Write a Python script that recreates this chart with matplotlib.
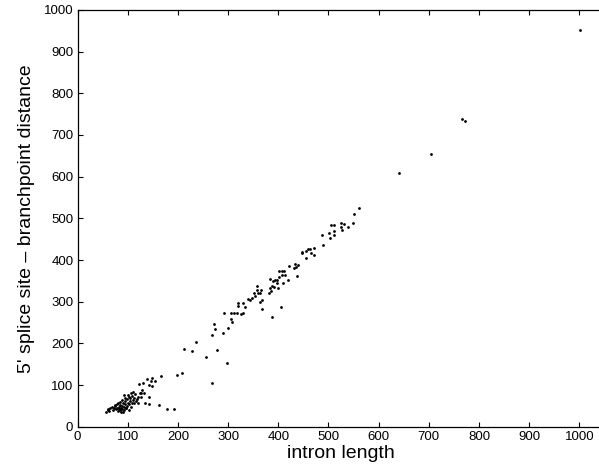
import matplotlib
matplotlib.use("Agg")
import matplotlib.pyplot as plt

plt.rcParams['font.family'] = ['Liberation Sans', 'DejaVu Sans']

# intron length vs 5' splice site - branchpoint distance
intron_length = [
    57, 60, 61, 63, 65, 68, 70, 72, 74, 75, 76, 78, 79, 80, 81, 82, 83, 84, 85, 85,
    86, 87, 88, 88, 89, 90, 91, 92, 92, 93, 94, 94, 95, 96, 97, 98, 99, 100, 101, 102,
    103, 103, 104, 105, 106, 107, 108, 109, 110, 111, 112, 113, 115, 116, 118, 120, 121, 122, 124, 126,
    127, 128, 131, 132, 134, 138, 142, 142, 143, 146, 148, 149, 154, 162, 166, 178, 192, 199, 209,
    212, 229, 237, 255, 267, 278, 297, 268, 272, 274, 290, 300, 291, 306, 308, 306, 312, 318, 325, 330,
    320, 320, 330, 334, 339, 344, 348, 351, 354, 357, 358, 360, 363, 365, 367, 363, 367, 387, 384, 383,
    387, 390, 393, 391, 385, 382, 397, 399, 397, 401, 402, 407, 408, 409, 412, 413, 405, 420, 422, 431,
    434, 437, 440, 435, 447, 447, 455, 460, 463, 466, 471, 472, 456, 488, 490, 501, 504, 505, 511, 511,
    511, 525, 525, 527, 531, 539, 549, 551, 561, 640, 704, 766, 772, 1002,
]
bp_distance = [
    35, 40, 42, 38, 45, 48, 40, 44, 50, 52, 42, 46, 55, 38, 56, 48, 42, 60, 40, 52,
    45, 36, 64, 50, 42, 58, 36, 76, 47, 40, 70, 55, 62, 44, 44, 50, 66, 58, 76, 40,
    72, 54, 68, 62, 48, 80, 58, 74, 64, 84, 58, 70, 78, 62, 66, 72, 56, 102, 80, 72,
    80, 88, 106, 82, 56, 115, 72, 54, 101, 110, 118, 98, 110, 51, 122, 42, 42, 123, 130,
    186, 182, 203, 167, 106, 185, 152, 221, 246, 235, 226, 236, 274, 259, 251, 274, 272, 274, 270, 274,
    290, 298, 298, 288, 307, 304, 310, 322, 313, 337, 327, 320, 322, 328, 304, 299, 283, 263, 355, 334,
    338, 349, 351, 335, 326, 321, 344, 333, 353, 359, 373, 364, 374, 346, 374, 365, 288, 352, 385, 382,
    390, 362, 387, 383, 420, 416, 422, 426, 427, 417, 411, 430, 405, 460, 436, 466, 453, 485, 485, 470,
    461, 488, 479, 471, 486, 479, 488, 510, 524, 609, 655, 739, 734, 951,
]

fig = plt.figure(figsize=(5.99, 4.73), dpi=100)
# the right edge of the axes falls outside the picture, as in the reference
ax = fig.add_axes([0.1294, 0.0979, 0.905, 0.881])

ax.plot(intron_length, bp_distance, 'o', color='black', markersize=2.0,
        markeredgewidth=0)

ax.set_xlim(0, 1080)
ax.set_ylim(0, 1000)
ax.set_xticks(range(0, 1001, 100))
ax.set_yticks(range(0, 1001, 100))
ax.tick_params(direction='in', top=True, right=True, length=3.5, width=0.8,
               labelsize=9.5, pad=3)
for s in ax.spines.values():
    s.set_linewidth(0.9)

ax.set_xlabel("intron length", fontsize=14, labelpad=1)
ax.xaxis.set_label_coords(0.485, -0.045, transform=ax.transAxes)
ax.set_ylabel("5' splice site \u2013 branchpoint distance", fontsize=14, labelpad=6)

fig.savefig("out.png", dpi=100)
